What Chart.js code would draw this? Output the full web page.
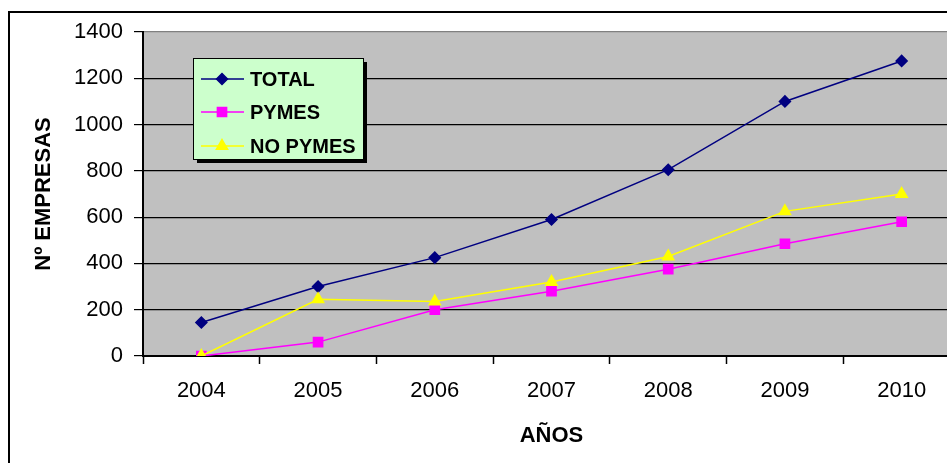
<!DOCTYPE html>
<html>
<head>
<meta charset="utf-8">
<script src="https://cdn.jsdelivr.net/npm/chart.js@4.4.0/dist/chart.umd.min.js"></script>
<style>
    body { margin: 0; background: #fff; overflow: hidden; }
    #marco { position: absolute; left: 8px; top: 11px; width: 1000px; height: 500px; border: 2px solid #000; }
    #grafico { position: absolute; left: 0; top: 0; }
</style>
</head>
<body>
<div id="marco"></div>
<canvas id="grafico" width="975" height="470"></canvas>
<script>
const anios = ["2004", "2005", "2006", "2007", "2008", "2009", "2010"];
const total = [145, 300, 425, 590, 805, 1100, 1275];
const pymes = [0, 60, 200, 280, 375, 485, 580];
const noPymes = [0, 245, 235, 320, 430, 625, 700];
const ticksY = [0, 200, 400, 600, 800, 1000, 1200, 1400];

const fuente = "'Liberation Sans', Arial, sans-serif";

// Fondo gris del área de trazado
const fondoPlot = {
    id: "fondoPlot",
    beforeDraw(chart) {
        const { ctx, chartArea } = chart;
        ctx.save();
        ctx.fillStyle = "#C0C0C0";
        ctx.fillRect(chartArea.left, chartArea.top, chartArea.right - chartArea.left, chartArea.bottom - chartArea.top);
        ctx.restore();
    }
};

// Leyenda en caja verde con sombra, dibujada a partir de los datasets
const leyendaCaja = {
    id: "leyendaCaja",
    afterDraw(chart) {
        const ctx = chart.ctx;
        const x = 193, y = 58, w = 170, h = 101;
        ctx.save();
        ctx.fillStyle = "#000";
        ctx.fillRect(x + 4, y + 4, w, h);
        ctx.fillStyle = "#CCFFCC";
        ctx.fillRect(x, y, w, h);
        ctx.strokeStyle = "#000";
        ctx.lineWidth = 1;
        ctx.strokeRect(x + 0.5, y + 0.5, w, h);

        const filas = [79, 112, 146];
        chart.data.datasets.forEach((ds, i) => {
            const fy = filas[i];
            ctx.strokeStyle = ds.borderColor;
            ctx.lineWidth = ds.borderWidth;
            ctx.beginPath();
            ctx.moveTo(201, fy);
            ctx.lineTo(244, fy);
            ctx.stroke();
            ctx.fillStyle = ds.pointBackgroundColor;
            ctx.strokeStyle = ds.pointBorderColor;
            Chart.helpers.drawPoint(ctx, {
                pointStyle: ds.pointStyle,
                radius: ds.pointRadius,
                borderWidth: 1,
                rotation: 0
            }, 222, fy);
            ctx.fillStyle = "#000";
            ctx.font = "bold 20px " + fuente;
            ctx.textBaseline = "middle";
            ctx.textAlign = "left";
            ctx.fillText(ds.label, 250, fy + 1);
        });
        ctx.restore();
    }
};

const ctx = document.getElementById("grafico").getContext("2d");
new Chart(ctx, {
    type: "line",
    data: {
        labels: anios,
        datasets: [
            {
                label: "TOTAL",
                data: total,
                borderColor: "#000080",
                backgroundColor: "#000080",
                pointBackgroundColor: "#000080",
                pointBorderColor: "#000080",
                borderWidth: 1.5,
                pointStyle: "rectRot",
                pointRadius: 5.5,
                order: 3
            },
            {
                label: "PYMES",
                data: pymes,
                borderColor: "#FF00FF",
                backgroundColor: "#FF00FF",
                pointBackgroundColor: "#FF00FF",
                pointBorderColor: "#FF00FF",
                borderWidth: 1.5,
                pointStyle: "rect",
                pointRadius: 6.5,
                order: 2
            },
            {
                label: "NO PYMES",
                data: noPymes,
                borderColor: "#FFFF00",
                backgroundColor: "#FFFF00",
                pointBackgroundColor: "#FFFF00",
                pointBorderColor: "#FFFF00",
                borderWidth: 1.5,
                pointStyle: "triangle",
                pointRadius: 6.5,
                order: 1
            }
        ]
    },
    options: {
        responsive: false,
        animation: false,
        layout: { padding: { top: 32, right: 15, left: 0, bottom: 0 } },
        plugins: {
            legend: { display: false },
            tooltip: { enabled: false }
        },
        elements: { line: { tension: 0, fill: false } },
        scales: {
            x: {
                offset: true,
                grid: {
                    offset: true,
                    drawOnChartArea: false,
                    tickLength: 8,
                    tickColor: "#000",
                    tickWidth: 1.5
                },
                border: { color: "#000", width: 2 },
                ticks: {
                    color: "#000",
                    padding: 14,
                    maxRotation: 0,
                    font: { family: fuente, size: 22 }
                },
                title: {
                    display: true,
                    text: "AÑOS",
                    color: "#000",
                    padding: { top: 0, bottom: 21 },
                    font: { family: fuente, size: 22, weight: "bold" }
                },
                afterFit(scale) { scale.height = 470 - 356; }
            },
            y: {
                min: 0,
                max: 1400,
                afterBuildTicks(scale) { scale.ticks = ticksY.map(v => ({ value: v })); },
                grid: {
                    color: c => (c.tick && c.tick.value === 1400 ? "#808080" : "#000"),
                    lineWidth: 1.2,
                    tickLength: 9,
                    tickColor: "#000"
                },
                border: { color: "#000", width: 2 },
                ticks: {
                    color: "#000",
                    padding: 11,
                    font: { family: fuente, size: 22 },
                    callback: v => String(v)
                },
                title: {
                    display: true,
                    text: "Nº EMPRESAS",
                    color: "#000",
                    padding: { top: 31, bottom: 0 },
                    font: { family: fuente, size: 22, weight: "bold" }
                },
                afterFit(scale) { scale.width = 143; }
            }
        }
    },
    plugins: [fondoPlot, leyendaCaja]
});
</script>
</body>
</html>
